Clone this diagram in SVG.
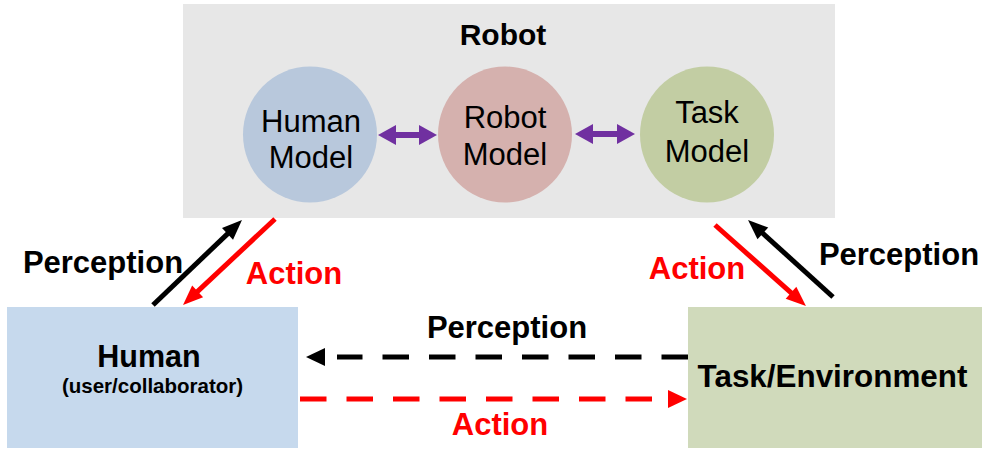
<svg xmlns="http://www.w3.org/2000/svg" width="1000" height="461" viewBox="0 0 1000 461">
  <defs>
    <style>
      text { font-family: "Liberation Sans", Arial, sans-serif; }
      .b { font-weight: bold; }
      .lbl { font-size: 31px; font-weight: bold; }
      .red { fill: #ff0000; }
      .blk { fill: #000000; }
      .mdl { font-size: 31px; fill: #000; text-anchor: middle; }
    </style>
    <marker id="ahB" markerUnits="userSpaceOnUse" markerWidth="22" markerHeight="18" refX="4" refY="8" orient="auto" overflow="visible">
      <path d="M0,0 L20,8 L0,16 z" fill="#000"/>
    </marker>
    <marker id="ahR" markerUnits="userSpaceOnUse" markerWidth="22" markerHeight="18" refX="4" refY="8" orient="auto" overflow="visible">
      <path d="M0,0 L20,8 L0,16 z" fill="#ff0000"/>
    </marker>
    <marker id="ahBd" markerUnits="userSpaceOnUse" markerWidth="20" markerHeight="18" refX="-12" refY="9" orient="auto" overflow="visible">
      <path d="M0,0 L19,9 L0,18 z" fill="#000"/>
    </marker>
    <marker id="ahRd" markerUnits="userSpaceOnUse" markerWidth="20" markerHeight="18" refX="-15" refY="9" orient="auto" overflow="visible">
      <path d="M0,0 L19,9 L0,18 z" fill="#ff0000"/>
    </marker>
    <marker id="ahP" markerUnits="userSpaceOnUse" markerWidth="20" markerHeight="22" refX="2" refY="10" orient="auto-start-reverse" overflow="visible">
      <path d="M0,0 L18,10 L0,20 z" fill="#7030a0"/>
    </marker>
  </defs>

  <rect width="1000" height="461" fill="#ffffff"/>

  <g id="robot">
    <rect x="183" y="4" width="652" height="214" fill="#e7e7e7"/>
    <text x="503" y="45" class="b" font-size="30" text-anchor="middle">Robot</text>
  </g>

  <g id="human-model">
    <ellipse cx="310" cy="134.5" rx="67" ry="68" fill="#b8c8dc"/>
    <text x="311" y="132" class="mdl">Human</text>
    <text x="311" y="168" class="mdl">Model</text>
  </g>

  <g id="robot-model">
    <ellipse cx="505" cy="134.5" rx="67" ry="68" fill="#d5b1ae"/>
    <text x="505" y="128" class="mdl">Robot</text>
    <text x="505" y="165" class="mdl">Model</text>
  </g>

  <g id="task-model">
    <ellipse cx="707" cy="134.5" rx="67" ry="68" fill="#c2cda3"/>
    <text x="707" y="123" class="mdl">Task</text>
    <text x="707" y="162" class="mdl">Model</text>
  </g>

  <g id="human">
    <rect x="7" y="307" width="291" height="141" fill="#c6d9ed"/>
    <text x="149" y="367" class="b" font-size="30.5" text-anchor="middle">Human</text>
    <text x="152.5" y="393" class="b" font-size="20.5" text-anchor="middle">(user/collaborator)</text>
  </g>

  <g id="task-environment">
    <rect x="688" y="307" width="294" height="141" fill="#d0dabb"/>
    <text x="832.5" y="387" class="b" font-size="31.4" text-anchor="middle">Task/Environment</text>
  </g>

  <g id="connectors">
    <line x1="394" y1="135" x2="421" y2="135" stroke="#7030a0" stroke-width="6" marker-start="url(#ahP)" marker-end="url(#ahP)"/>
    <line x1="591" y1="134" x2="619" y2="134" stroke="#7030a0" stroke-width="6" marker-start="url(#ahP)" marker-end="url(#ahP)"/>

    <line x1="153" y1="305" x2="230.4" y2="231.1" stroke="#000" stroke-width="5" marker-end="url(#ahB)"/>
    <line x1="275" y1="219" x2="194.7" y2="294.1" stroke="#ff0000" stroke-width="5" marker-end="url(#ahR)"/>
    <line x1="715" y1="225" x2="794" y2="295.4" stroke="#ff0000" stroke-width="5" marker-end="url(#ahR)"/>
    <line x1="833" y1="297" x2="759.9" y2="230.7" stroke="#000" stroke-width="5" marker-end="url(#ahB)"/>

    <line x1="688" y1="357" x2="337" y2="357" stroke="#000" stroke-width="5" stroke-dasharray="26.5 20" marker-end="url(#ahBd)"/>
    <line x1="300" y1="399" x2="653" y2="399" stroke="#ff0000" stroke-width="5" stroke-dasharray="26.5 20" marker-end="url(#ahRd)"/>

    <text x="103" y="273" class="lbl blk" text-anchor="middle">Perception</text>
    <text x="294" y="284" class="lbl red" text-anchor="middle">Action</text>
    <text x="697" y="279" class="lbl red" text-anchor="middle">Action</text>
    <text x="899" y="265" class="lbl blk" text-anchor="middle">Perception</text>
    <text x="507" y="338" class="lbl blk" text-anchor="middle">Perception</text>
    <text x="500" y="435" class="lbl red" text-anchor="middle">Action</text>
  </g>
</svg>
